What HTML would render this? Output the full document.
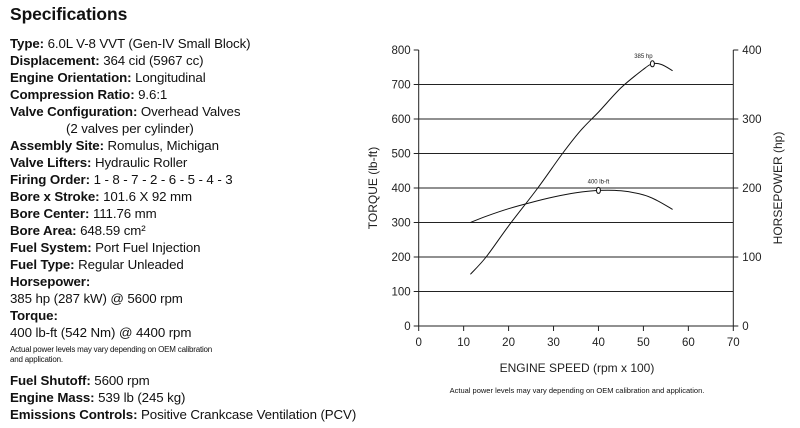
<!DOCTYPE html>
<html><head><meta charset="utf-8"><style>
body{margin:0;background:#fff;width:800px;height:428px;overflow:hidden;position:relative;font-family:"Liberation Sans",sans-serif;color:#111}
.t{position:absolute;left:10px;font-size:13.3px;white-space:nowrap;line-height:15px;letter-spacing:-0.1px}
.t b{font-weight:bold}
.sm{font-size:8px;line-height:10px;letter-spacing:-0.2px}
</style></head><body>
<div class="t" style="top:4px;font-size:17.5px;font-weight:bold;line-height:20px">Specifications</div>
<div>
<div class="t" style="top:36px"><b>Type:</b> 6.0L V-8 VVT (Gen-IV Small Block)</div>
<div class="t" style="top:53px"><b>Displacement:</b> 364 cid (5967 cc)</div>
<div class="t" style="top:70px"><b>Engine Orientation:</b> Longitudinal</div>
<div class="t" style="top:87px"><b>Compression Ratio:</b> 9.6:1</div>
<div class="t" style="top:104px"><b>Valve Configuration:</b> Overhead Valves</div>
<div class="t" style="top:121px;left:66px">(2 valves per cylinder)</div>
<div class="t" style="top:138px"><b>Assembly Site:</b> Romulus, Michigan</div>
<div class="t" style="top:155px"><b>Valve Lifters:</b> Hydraulic Roller</div>
<div class="t" style="top:172px"><b>Firing Order:</b> 1 - 8 - 7 - 2 - 6 - 5 - 4 - 3</div>
<div class="t" style="top:189px"><b>Bore x Stroke:</b> 101.6 X 92 mm</div>
<div class="t" style="top:206px"><b>Bore Center:</b> 111.76 mm</div>
<div class="t" style="top:223px"><b>Bore Area:</b> 648.59 cm²</div>
<div class="t" style="top:240px"><b>Fuel System:</b> Port Fuel Injection</div>
<div class="t" style="top:257px"><b>Fuel Type:</b> Regular Unleaded</div>
<div class="t" style="top:274px"><b>Horsepower:</b></div>
<div class="t" style="top:291px">385 hp (287 kW) @ 5600 rpm</div>
<div class="t" style="top:308px"><b>Torque:</b></div>
<div class="t" style="top:325px">400 lb-ft (542 Nm) @ 4400 rpm</div>
<div class="t sm" style="top:345px">Actual power levels may vary depending on OEM calibration<br>and application.</div>
<div class="t" style="top:373px"><b>Fuel Shutoff:</b> 5600 rpm</div>
<div class="t" style="top:390px"><b>Engine Mass:</b> 539 lb (245 kg)</div>
<div class="t" style="top:407px"><b>Emissions Controls:</b> Positive Crankcase Ventilation (PCV)</div>
</div>
<svg id="chart" width="800" height="428" style="position:absolute;left:0;top:0" font-family="Liberation Sans, sans-serif"></svg>
<script>
const xTicks=[0,10,20,30,40,50,60,70];
const torqueTicks=[0,100,200,300,400,500,600,700,800];
const hpTicks=[0,100,200,300,400];
const torqueRpm=[11.5,15,20,25,30,35,40,45,50,53,56.5];
const torqueVals=[300,318,340,358,374,386,393,392,380,364,338];
const hpRpm=[11.5,15,20,26.5,32,36,40,45,50,52,54,56.5];
const hpVals=[75,100,145,200,250,283,310,345,372,380,379,370];
const torquePeak=[40,393,"400 lb-ft"];
const hpPeak=[52,380,"385 hp"];
const L=418.7,R=733.3,T=50,B=326;
const X=v=>L+(v/70)*(R-L);
const YT=v=>B-(v/800)*(B-T);
const YH=v=>B-(v/400)*(B-T);
const svg=document.getElementById('chart');
const ns='http://www.w3.org/2000/svg';
function mk(tag,a,txt){const e=document.createElementNS(ns,tag);for(const k in a)e.setAttribute(k,a[k]);if(txt!==undefined)e.textContent=txt;svg.appendChild(e);return e;}
torqueTicks.forEach(v=>{
 if(v>0&&v<800){const g=mk('line',{x1:L,x2:R,y1:YT(v),y2:YT(v),stroke:'#222','stroke-width':1});
 
 }
 const tk=mk('line',{x1:L-5,x2:L,y1:YT(v),y2:YT(v),stroke:'#222'});
 
 
 const t=mk('text',{x:L-8,y:YT(v)+4,'text-anchor':'end','font-size':11.5,fill:'#222'},v);
 
 
});
hpTicks.forEach(v=>{
 const tk=mk('line',{x1:R,x2:R+5,y1:YH(v),y2:YH(v),stroke:'#222'});
 
 
 const t=mk('text',{x:R+9,y:YH(v)+4,'font-size':11.5,fill:'#222'},v);
 
 
});
xTicks.forEach(v=>{
 const tk=mk('line',{x1:X(v),x2:X(v),y1:B,y2:B+5,stroke:'#222'});
 
 
 const t=mk('text',{x:X(v),y:B+20,'text-anchor':'middle','font-size':11.5,fill:'#222'},v);
 
 
});
const ax=[[L,T,L,B],[R,T,R,B],[L,B,R,B]];
ax.forEach(a=>{const e=mk('line',{x1:a[0],y1:a[1],x2:a[2],y2:a[3],stroke:'#222','stroke-width':1});
 
 });
function path(xs,ys,fy){
 const p=xs.map((x,i)=>[X(x),fy(ys[i])]);
 let d='M'+p[0][0].toFixed(1)+' '+p[0][1].toFixed(1);
 for(let i=0;i<p.length-1;i++){
  const p0=p[Math.max(0,i-1)],p1=p[i],p2=p[i+1],p3=p[Math.min(p.length-1,i+2)];
  const c1=[p1[0]+(p2[0]-p0[0])/6,p1[1]+(p2[1]-p0[1])/6];
  const c2=[p2[0]-(p3[0]-p1[0])/6,p2[1]-(p3[1]-p1[1])/6];
  d+='C'+c1[0].toFixed(1)+' '+c1[1].toFixed(1)+' '+c2[0].toFixed(1)+' '+c2[1].toFixed(1)+' '+p2[0].toFixed(1)+' '+p2[1].toFixed(1);
 }
 return d;}
const tp=mk('path',{d:path(torqueRpm,torqueVals,YT),fill:'none',stroke:'#111','stroke-width':1});


const hp=mk('path',{d:path(hpRpm,hpVals,YH),fill:'none',stroke:'#111','stroke-width':1});


const m1=mk('ellipse',{cx:X(torquePeak[0]),cy:YT(torquePeak[1]),rx:2,ry:3,fill:'#fff',stroke:'#111'});


const l1=mk('text',{x:X(torquePeak[0]),y:YT(torquePeak[1])-7,'text-anchor':'middle','font-size':6,fill:'#222'},torquePeak[2]);


const m2=mk('ellipse',{cx:X(hpPeak[0]),cy:YH(hpPeak[1]),rx:2,ry:3,fill:'#fff',stroke:'#111'});


const l2=mk('text',{x:X(hpPeak[0])-9,y:YH(hpPeak[1])-6,'text-anchor':'middle','font-size':6,fill:'#222'},hpPeak[2]);


const yt=mk('text',{x:0,y:0,transform:'translate(377,188) rotate(-90)','text-anchor':'middle','font-size':12,fill:'#222'},'TORQUE (lb-ft)');


const yr=mk('text',{x:0,y:0,transform:'translate(782,188) rotate(-90)','text-anchor':'middle','font-size':12,fill:'#222'},'HORSEPOWER (hp)');


const xt=mk('text',{x:577,y:372,'text-anchor':'middle','font-size':12,fill:'#222'},'ENGINE SPEED (rpm x 100)');


const nt=mk('text',{x:577,y:393,'text-anchor':'middle','font-size':7.5,fill:'#111'},'Actual power levels may vary depending on OEM calibration and application.');


</script>
</body></html>
